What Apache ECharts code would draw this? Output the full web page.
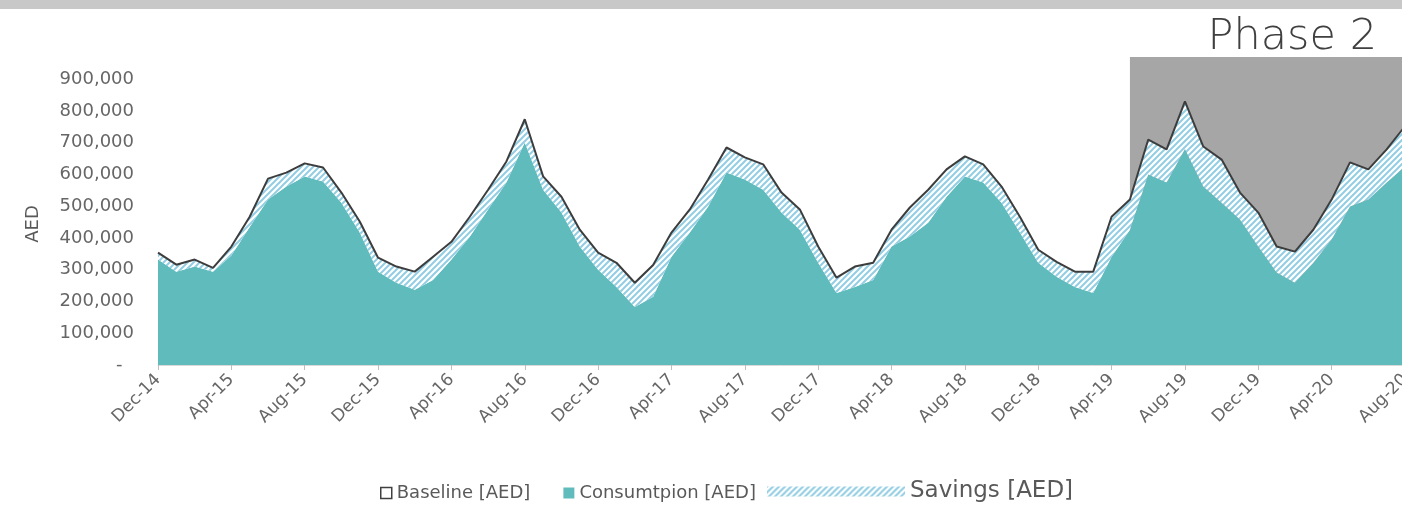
<!DOCTYPE html>
<html>
<head>
<meta charset="utf-8">
<script src="https://cdn.jsdelivr.net/npm/echarts@6/dist/echarts.min.js"></script>
<style>html,body{margin:0;padding:0;background:#fff;}#chart{width:1402px;height:524px;}</style>
</head>
<body>
<div id="chart"></div>
<script>
// ---- data ----
const categories = ['Dec-14','Jan-15','Feb-15','Mar-15','Apr-15','May-15','Jun-15','Jul-15','Aug-15','Sep-15','Oct-15','Nov-15',
  'Dec-15','Jan-16','Feb-16','Mar-16','Apr-16','May-16','Jun-16','Jul-16','Aug-16','Sep-16','Oct-16','Nov-16',
  'Dec-16','Jan-17','Feb-17','Mar-17','Apr-17','May-17','Jun-17','Jul-17','Aug-17','Sep-17','Oct-17','Nov-17',
  'Dec-17','Jan-18','Feb-18','Mar-18','Apr-18','May-18','Jun-18','Jul-18','Aug-18','Sep-18','Oct-18','Nov-18',
  'Dec-18','Jan-19','Feb-19','Mar-19','Apr-19','May-19','Jun-19','Jul-19','Aug-19','Sep-19','Oct-19','Nov-19',
  'Dec-19','Jan-20','Feb-20','Mar-20','Apr-20','May-20','Jun-20','Jul-20','Aug-20'];
const baseline = [354000,316000,332000,306000,373000,467000,587000,606000,635000,622000,543000,452000,
  338000,310000,294000,341000,388000,467000,552000,641000,774000,594000,530000,426000,
  354000,322000,259000,315000,417000,490000,584000,685000,654000,632000,543000,490000,
  373000,275000,310000,322000,426000,496000,552000,616000,657000,632000,562000,467000,
  363000,325000,294000,294000,467000,521000,710000,679000,830000,688000,647000,543000,
  480000,373000,357000,426000,521000,638000,616000,679000,752000];
const consumption = [332000,294000,310000,294000,345000,435000,521000,562000,594000,578000,511000,417000,
  294000,259000,237000,268000,332000,404000,490000,575000,701000,552000,480000,373000,
  300000,246000,183000,215000,341000,417000,499000,606000,584000,552000,480000,426000,
  322000,227000,246000,268000,373000,405000,448000,530000,594000,575000,511000,417000,
  322000,278000,246000,227000,341000,426000,600000,575000,680000,562000,511000,458000,
  373000,291000,259000,322000,395000,499000,521000,575000,625000];
const phaseStart = 'May-19';
const phaseEnd = 'Aug-20';
const phaseLabel = 'Phase 2';
const yMax = 970000;
const yInterval = 100000;

// savings = baseline - consumption (stacked on consumption)
const savings = baseline.map((b, i) => b - consumption[i]);

// hatch pattern
function makeHatch() {
  const s = 6;
  const c = document.createElement('canvas');
  c.width = s; c.height = s;
  const g = c.getContext('2d');
  g.fillStyle = '#ffffff';
  g.fillRect(0, 0, s, s);
  g.strokeStyle = '#93cde4';
  g.lineWidth = 2;
  g.beginPath();
  g.moveTo(0, s); g.lineTo(s, 0);
  g.moveTo(-s / 2, s / 2); g.lineTo(s / 2, -s / 2);
  g.moveTo(s / 2, s + s / 2); g.lineTo(s + s / 2, s / 2);
  g.stroke();
  return c;
}
const hatch = { image: makeHatch(), repeat: 'repeat' };

const FONT = 'DejaVu Sans';
const chart = echarts.init(document.getElementById('chart'), null, { renderer: 'canvas' });
chart.setOption({
  animation: false,
  backgroundColor: '#ffffff',
  textStyle: { fontFamily: FONT },
  title: {
    text: phaseLabel,
    right: 20, top: 11,
    textStyle: { fontFamily: FONT, fontSize: 43, fontWeight: 'lighter', color: '#404040' }
  },
  graphic: [{
    type: 'rect', left: 0, top: 0, z: 0,
    shape: { width: 1402, height: 9 },
    style: { fill: '#c8c8c8' }
  }],
  grid: { left: 158, right: -3, top: 57, bottom: 159, containLabel: false, outerBoundsMode: 'none' },
  legend: [{
    left: 380, top: 484, padding: 0,
    itemWidth: 11, itemHeight: 11, itemGap: 33,
    textStyle: { fontFamily: FONT, fontSize: 18, color: '#595959' },
    data: [
      { name: 'Baseline [AED]', icon: 'rect', itemStyle: { color: '#ffffff', borderColor: '#404040', borderWidth: 1.5 } },
      { name: 'Consumtpion [AED]', icon: 'rect' }
    ]
  }, {
    left: 767, top: 480, padding: 0,
    itemWidth: 138, itemHeight: 10,
    textStyle: { fontFamily: FONT, fontSize: 23, color: '#595959' },
    data: [{ name: 'Savings [AED]', icon: 'rect' }]
  }],
  xAxis: {
    type: 'category',
    data: categories,
    boundaryGap: false,
    axisLine: { show: true, lineStyle: { color: '#d9d9d9', width: 1 } },
    axisTick: { show: true, interval: 3, length: 5, lineStyle: { color: '#bfbfbf' } },
    axisLabel: { interval: 3, rotate: 45, margin: 12, fontSize: 17, color: '#666666', fontFamily: FONT },
    splitLine: { show: false }
  },
  yAxis: {
    type: 'value',
    min: 0, max: yMax, interval: yInterval,
    name: 'AED',
    nameLocation: 'middle',
    nameGap: 116,
    nameTextStyle: { fontFamily: FONT, fontSize: 18, color: '#595959', padding: [0, 26, 0, 0] },
    axisLine: { show: false },
    axisTick: { show: false },
    splitLine: { show: false },
    axisLabel: {
      showMaxLabel: false,
      margin: 24,
      fontSize: 18, color: '#666666', fontFamily: FONT,
      formatter: v => v === 0 ? '-  ' : v.toLocaleString('en-US')
    }
  },
  series: [{
    name: 'Consumtpion [AED]',
    type: 'line',
    stack: 'total',
    data: consumption,
    symbol: 'none',
    z: 2,
    color: '#60bcbc',
    lineStyle: { width: 0 },
    areaStyle: { color: '#60bcbc', opacity: 1 },
    markArea: {
      silent: true,
      itemStyle: { color: '#a6a6a6' },
      data: [[{ xAxis: phaseStart, yAxis: 0 }, { xAxis: phaseEnd, yAxis: yMax }]]
    }
  }, {
    name: 'Savings [AED]',
    type: 'line',
    stack: 'total',
    data: savings,
    symbol: 'none',
    z: 2,
    color: hatch,
    lineStyle: { width: 0 },
    areaStyle: { color: hatch, opacity: 1 }
  }, {
    name: 'Baseline [AED]',
    type: 'line',
    data: baseline,
    symbol: 'none',
    z: 3,
    color: '#3d3d3d',
    lineStyle: { width: 2, color: '#3d3d3d' }
  }]
});
</script>
</body>
</html>
